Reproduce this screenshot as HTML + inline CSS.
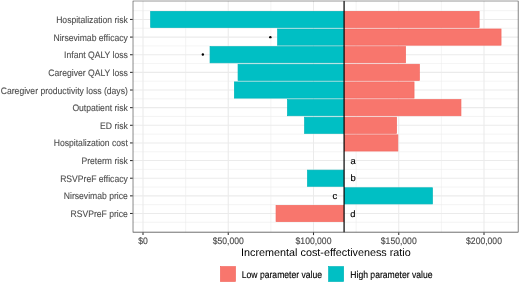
<!DOCTYPE html><html><head><meta charset="utf-8"><style>html,body{margin:0;padding:0;background:#fff;width:520px;height:283px;overflow:hidden}svg{display:block;will-change:transform}text{font-family:"Liberation Sans",sans-serif;text-rendering:geometricPrecision}</style></head><body>
<svg width="520" height="283" viewBox="0 0 520 283">
<defs><clipPath id="pc"><rect x="132.70" y="0.65" width="385.75" height="231.75"/></clipPath></defs>
<rect width="520" height="283" fill="#fff"/>
<g clip-path="url(#pc)">
<line x1="143.00" y1="0.65" x2="143.00" y2="232.4" stroke="#EBEBEB" stroke-width="1.07"/>
<line x1="228.25" y1="0.65" x2="228.25" y2="232.4" stroke="#EBEBEB" stroke-width="1.07"/>
<line x1="313.50" y1="0.65" x2="313.50" y2="232.4" stroke="#EBEBEB" stroke-width="1.07"/>
<line x1="398.75" y1="0.65" x2="398.75" y2="232.4" stroke="#EBEBEB" stroke-width="1.07"/>
<line x1="484.00" y1="0.65" x2="484.00" y2="232.4" stroke="#EBEBEB" stroke-width="1.07"/>
<line x1="185.62" y1="0.65" x2="185.62" y2="232.4" stroke="#EBEBEB" stroke-width="0.53"/>
<line x1="270.88" y1="0.65" x2="270.88" y2="232.4" stroke="#EBEBEB" stroke-width="0.53"/>
<line x1="356.12" y1="0.65" x2="356.12" y2="232.4" stroke="#EBEBEB" stroke-width="0.53"/>
<line x1="441.38" y1="0.65" x2="441.38" y2="232.4" stroke="#EBEBEB" stroke-width="0.53"/>
<line x1="132.7" y1="19.45" x2="518.45" y2="19.45" stroke="#EBEBEB" stroke-width="1.07"/>
<line x1="132.7" y1="37.09" x2="518.45" y2="37.09" stroke="#EBEBEB" stroke-width="1.07"/>
<line x1="132.7" y1="54.73" x2="518.45" y2="54.73" stroke="#EBEBEB" stroke-width="1.07"/>
<line x1="132.7" y1="72.37" x2="518.45" y2="72.37" stroke="#EBEBEB" stroke-width="1.07"/>
<line x1="132.7" y1="90.01" x2="518.45" y2="90.01" stroke="#EBEBEB" stroke-width="1.07"/>
<line x1="132.7" y1="107.65" x2="518.45" y2="107.65" stroke="#EBEBEB" stroke-width="1.07"/>
<line x1="132.7" y1="125.29" x2="518.45" y2="125.29" stroke="#EBEBEB" stroke-width="1.07"/>
<line x1="132.7" y1="142.93" x2="518.45" y2="142.93" stroke="#EBEBEB" stroke-width="1.07"/>
<line x1="132.7" y1="160.57" x2="518.45" y2="160.57" stroke="#EBEBEB" stroke-width="1.07"/>
<line x1="132.7" y1="178.21" x2="518.45" y2="178.21" stroke="#EBEBEB" stroke-width="1.07"/>
<line x1="132.7" y1="195.85" x2="518.45" y2="195.85" stroke="#EBEBEB" stroke-width="1.07"/>
<line x1="132.7" y1="213.49" x2="518.45" y2="213.49" stroke="#EBEBEB" stroke-width="1.07"/>
<line x1="132.7" y1="10.63" x2="518.45" y2="10.63" stroke="#EBEBEB" stroke-width="0.53"/>
<line x1="132.7" y1="28.27" x2="518.45" y2="28.27" stroke="#EBEBEB" stroke-width="0.53"/>
<line x1="132.7" y1="45.91" x2="518.45" y2="45.91" stroke="#EBEBEB" stroke-width="0.53"/>
<line x1="132.7" y1="63.55" x2="518.45" y2="63.55" stroke="#EBEBEB" stroke-width="0.53"/>
<line x1="132.7" y1="81.19" x2="518.45" y2="81.19" stroke="#EBEBEB" stroke-width="0.53"/>
<line x1="132.7" y1="98.83" x2="518.45" y2="98.83" stroke="#EBEBEB" stroke-width="0.53"/>
<line x1="132.7" y1="116.47" x2="518.45" y2="116.47" stroke="#EBEBEB" stroke-width="0.53"/>
<line x1="132.7" y1="134.11" x2="518.45" y2="134.11" stroke="#EBEBEB" stroke-width="0.53"/>
<line x1="132.7" y1="151.75" x2="518.45" y2="151.75" stroke="#EBEBEB" stroke-width="0.53"/>
<line x1="132.7" y1="169.39" x2="518.45" y2="169.39" stroke="#EBEBEB" stroke-width="0.53"/>
<line x1="132.7" y1="187.03" x2="518.45" y2="187.03" stroke="#EBEBEB" stroke-width="0.53"/>
<line x1="132.7" y1="204.67" x2="518.45" y2="204.67" stroke="#EBEBEB" stroke-width="0.53"/>
<line x1="132.7" y1="222.31" x2="518.45" y2="222.31" stroke="#EBEBEB" stroke-width="0.53"/>
<rect x="150.65" y="11.35" width="193.08" height="16.20" fill="#00BFC4" stroke="#00B5BA" stroke-width="0.7"/>
<rect x="344.43" y="11.35" width="134.72" height="16.20" fill="#F8766D" stroke="#F36860" stroke-width="0.7"/>
<rect x="277.65" y="28.99" width="66.08" height="16.20" fill="#00BFC4" stroke="#00B5BA" stroke-width="0.7"/>
<rect x="344.43" y="28.99" width="156.62" height="16.20" fill="#F8766D" stroke="#F36860" stroke-width="0.7"/>
<rect x="210.05" y="46.63" width="133.68" height="16.20" fill="#00BFC4" stroke="#00B5BA" stroke-width="0.7"/>
<rect x="344.43" y="46.63" width="61.12" height="16.20" fill="#F8766D" stroke="#F36860" stroke-width="0.7"/>
<rect x="238.05" y="64.27" width="105.68" height="16.20" fill="#00BFC4" stroke="#00B5BA" stroke-width="0.7"/>
<rect x="344.43" y="64.27" width="74.92" height="16.20" fill="#F8766D" stroke="#F36860" stroke-width="0.7"/>
<rect x="234.35" y="81.91" width="109.38" height="16.20" fill="#00BFC4" stroke="#00B5BA" stroke-width="0.7"/>
<rect x="344.43" y="81.91" width="69.62" height="16.20" fill="#F8766D" stroke="#F36860" stroke-width="0.7"/>
<rect x="287.45" y="99.55" width="56.28" height="16.20" fill="#00BFC4" stroke="#00B5BA" stroke-width="0.7"/>
<rect x="344.43" y="99.55" width="116.52" height="16.20" fill="#F8766D" stroke="#F36860" stroke-width="0.7"/>
<rect x="304.55" y="117.19" width="39.18" height="16.20" fill="#00BFC4" stroke="#00B5BA" stroke-width="0.7"/>
<rect x="344.43" y="117.19" width="52.12" height="16.20" fill="#F8766D" stroke="#F36860" stroke-width="0.7"/>
<rect x="344.43" y="134.83" width="53.42" height="16.20" fill="#F8766D" stroke="#F36860" stroke-width="0.7"/>
<rect x="307.45" y="170.11" width="36.28" height="16.20" fill="#00BFC4" stroke="#00B5BA" stroke-width="0.7"/>
<rect x="344.43" y="187.75" width="88.02" height="16.20" fill="#00BFC4" stroke="#00B5BA" stroke-width="0.7"/>
<rect x="276.05" y="205.39" width="67.68" height="16.20" fill="#F8766D" stroke="#F36860" stroke-width="0.7"/>
<line x1="344.08" y1="0.65" x2="344.08" y2="232.4" stroke="#000" stroke-width="1.2"/>
<circle cx="270.35" cy="37.15" r="1.2" fill="#000"/>
<circle cx="202.85" cy="54.5" r="1.2" fill="#000"/>
<text x="353.1" y="163.77" font-size="9.4" fill="#000" stroke="#000" stroke-width="0.15" text-anchor="middle">a</text>
<text x="353.1" y="181.06" font-size="9.4" fill="#000" stroke="#000" stroke-width="0.15" text-anchor="middle">b</text>
<text x="334.9" y="198.80" font-size="9.4" fill="#000" stroke="#000" stroke-width="0.15" text-anchor="middle">c</text>
<text x="352.9" y="217.19" font-size="9.4" fill="#000" stroke="#000" stroke-width="0.15" text-anchor="middle">d</text>
<rect x="132.7" y="0.65" width="385.75" height="231.75" fill="none" stroke="#333" stroke-width="1.20"/>
</g>
<line x1="130.00" y1="19.45" x2="132.7" y2="19.45" stroke="#333" stroke-width="1.07"/>
<text transform="translate(127.8 23.00) scale(1 1.1)" font-size="8.6" fill="#4D4D4D" stroke="#4D4D4D" stroke-width="0.1" text-anchor="end">Hospitalization risk</text>
<line x1="130.00" y1="37.09" x2="132.7" y2="37.09" stroke="#333" stroke-width="1.07"/>
<text transform="translate(127.8 40.64) scale(1 1.1)" font-size="8.6" fill="#4D4D4D" stroke="#4D4D4D" stroke-width="0.1" text-anchor="end">Nirsevimab efficacy</text>
<line x1="130.00" y1="54.73" x2="132.7" y2="54.73" stroke="#333" stroke-width="1.07"/>
<text transform="translate(127.8 58.28) scale(1 1.1)" font-size="8.6" fill="#4D4D4D" stroke="#4D4D4D" stroke-width="0.1" text-anchor="end">Infant QALY loss</text>
<line x1="130.00" y1="72.37" x2="132.7" y2="72.37" stroke="#333" stroke-width="1.07"/>
<text transform="translate(127.8 75.92) scale(1 1.1)" font-size="8.6" fill="#4D4D4D" stroke="#4D4D4D" stroke-width="0.1" text-anchor="end">Caregiver QALY loss</text>
<line x1="130.00" y1="90.01" x2="132.7" y2="90.01" stroke="#333" stroke-width="1.07"/>
<text transform="translate(127.8 93.56) scale(1 1.1)" font-size="8.6" fill="#4D4D4D" stroke="#4D4D4D" stroke-width="0.1" text-anchor="end">Caregiver productivity loss (days)</text>
<line x1="130.00" y1="107.65" x2="132.7" y2="107.65" stroke="#333" stroke-width="1.07"/>
<text transform="translate(127.8 111.20) scale(1 1.1)" font-size="8.6" fill="#4D4D4D" stroke="#4D4D4D" stroke-width="0.1" text-anchor="end">Outpatient risk</text>
<line x1="130.00" y1="125.29" x2="132.7" y2="125.29" stroke="#333" stroke-width="1.07"/>
<text transform="translate(127.8 128.84) scale(1 1.1)" font-size="8.6" fill="#4D4D4D" stroke="#4D4D4D" stroke-width="0.1" text-anchor="end">ED risk</text>
<line x1="130.00" y1="142.93" x2="132.7" y2="142.93" stroke="#333" stroke-width="1.07"/>
<text transform="translate(127.8 146.48) scale(1 1.1)" font-size="8.6" fill="#4D4D4D" stroke="#4D4D4D" stroke-width="0.1" text-anchor="end">Hospitalization cost</text>
<line x1="130.00" y1="160.57" x2="132.7" y2="160.57" stroke="#333" stroke-width="1.07"/>
<text transform="translate(127.8 164.12) scale(1 1.1)" font-size="8.6" fill="#4D4D4D" stroke="#4D4D4D" stroke-width="0.1" text-anchor="end">Preterm risk</text>
<line x1="130.00" y1="178.21" x2="132.7" y2="178.21" stroke="#333" stroke-width="1.07"/>
<text transform="translate(127.8 181.76) scale(1 1.1)" font-size="8.6" fill="#4D4D4D" stroke="#4D4D4D" stroke-width="0.1" text-anchor="end">RSVPreF efficacy</text>
<line x1="130.00" y1="195.85" x2="132.7" y2="195.85" stroke="#333" stroke-width="1.07"/>
<text transform="translate(127.8 199.40) scale(1 1.1)" font-size="8.6" fill="#4D4D4D" stroke="#4D4D4D" stroke-width="0.1" text-anchor="end">Nirsevimab price</text>
<line x1="130.00" y1="213.49" x2="132.7" y2="213.49" stroke="#333" stroke-width="1.07"/>
<text transform="translate(127.8 217.04) scale(1 1.1)" font-size="8.6" fill="#4D4D4D" stroke="#4D4D4D" stroke-width="0.1" text-anchor="end">RSVPreF price</text>
<line x1="143.00" y1="232.4" x2="143.00" y2="235.10" stroke="#333" stroke-width="1.07"/>
<text transform="translate(143.00 243.8) scale(1 1.1)" font-size="8.6" fill="#4D4D4D" stroke="#4D4D4D" stroke-width="0.15" text-anchor="middle">$0</text>
<line x1="228.25" y1="232.4" x2="228.25" y2="235.10" stroke="#333" stroke-width="1.07"/>
<text transform="translate(228.25 243.8) scale(1 1.1)" font-size="8.6" fill="#4D4D4D" stroke="#4D4D4D" stroke-width="0.15" text-anchor="middle">$50,000</text>
<line x1="313.50" y1="232.4" x2="313.50" y2="235.10" stroke="#333" stroke-width="1.07"/>
<text transform="translate(313.50 243.8) scale(1 1.1)" font-size="8.6" fill="#4D4D4D" stroke="#4D4D4D" stroke-width="0.15" text-anchor="middle">$100,000</text>
<line x1="398.75" y1="232.4" x2="398.75" y2="235.10" stroke="#333" stroke-width="1.07"/>
<text transform="translate(398.75 243.8) scale(1 1.1)" font-size="8.6" fill="#4D4D4D" stroke="#4D4D4D" stroke-width="0.15" text-anchor="middle">$150,000</text>
<line x1="484.00" y1="232.4" x2="484.00" y2="235.10" stroke="#333" stroke-width="1.07"/>
<text transform="translate(484.00 243.8) scale(1 1.1)" font-size="8.6" fill="#4D4D4D" stroke="#4D4D4D" stroke-width="0.15" text-anchor="middle">$200,000</text>
<text x="325.93" y="256.2" font-size="10.8" fill="#000" text-anchor="middle">Incremental cost-effectiveness ratio</text>
<rect x="220.45" y="266.65" width="15.0" height="14.8" fill="#F8766D" stroke="#F36860" stroke-width="0.7"/>
<text transform="translate(241.8 277.8) scale(1 1.15)" font-size="8.6" fill="#000" stroke="#000" stroke-width="0.12">Low parameter value</text>
<rect x="328.65" y="266.65" width="15.0" height="14.8" fill="#00BFC4" stroke="#00B5BA" stroke-width="0.7"/>
<text transform="translate(350.3 277.8) scale(1 1.15)" font-size="8.6" fill="#000" stroke="#000" stroke-width="0.12">High parameter value</text>
</svg></body></html>
